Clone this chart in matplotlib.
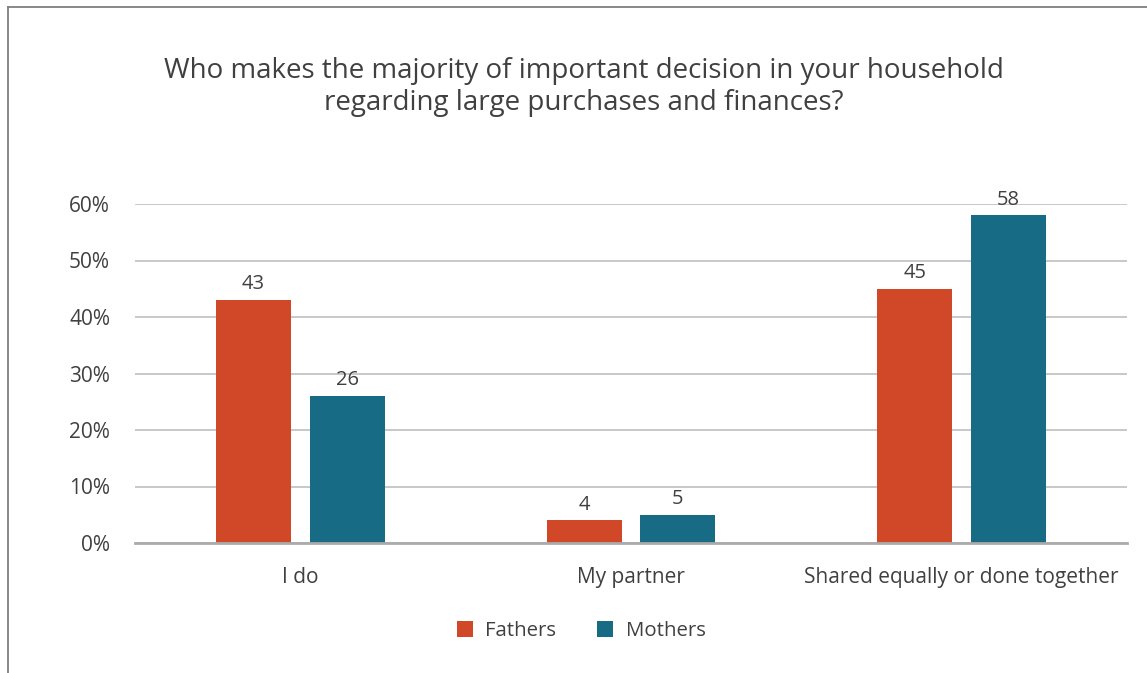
import numpy as np
import matplotlib.pyplot as plt
from matplotlib.lines import Line2D

plt.rcParams['font.family'] = ['Open Sans', 'DejaVu Sans']

categories = ['I do', 'My partner', 'Shared equally or done together']
fathers = [43, 4, 45]
mothers = [26, 5, 58]
yticks = [0, 10, 20, 30, 40, 50, 60]

orange = '#D14828'
teal = '#176B85'
text_col = '#404040'

W, H = 1147, 673
fig = plt.figure(figsize=(W / 100, H / 100), dpi=100)
ax = fig.add_axes([135 / W, 1 - 543 / H, (1127 - 135) / W, (543 - 204) / H])

x = np.arange(len(categories))
bw = 0.227
off = 0.142
b1 = ax.bar(x - off, fathers, bw, color=orange, label='Fathers', zorder=3)
b2 = ax.bar(x + off, mothers, bw, color=teal, label='Mothers', zorder=3)

for bars, vals in ((b1, fathers), (b2, mothers)):
    for rect, v in zip(bars, vals):
        ax.text(rect.get_x() + rect.get_width() / 2, v + 1.0, str(v),
                ha='center', va='bottom', fontsize=14.5, color=text_col)

ax.set_xlim(-0.5, 2.5)
ax.set_ylim(0, 60)
ax.set_yticks(yticks)
ax.set_yticklabels([f'{t}%' for t in yticks])
ax.set_xticks(x)
ax.set_xticklabels(categories)
ax.tick_params(axis='both', length=0, labelsize=15, labelcolor=text_col)
ax.tick_params(axis='y', pad=18)
ax.tick_params(axis='x', pad=17)
ax.grid(axis='y', color='#BFBFBF', linewidth=1.2, zorder=0)
for s in ('top', 'right', 'left'):
    ax.spines[s].set_visible(False)
ax.spines['bottom'].set_color('#ABABAB')
ax.spines['bottom'].set_linewidth(2)
ax.spines['bottom'].set_zorder(4)

fig.text(584 / W, 1 - 87 / H,
         'Who makes the majority of important decision in your household\n'
         'regarding large purchases and finances?',
         ha='center', va='center', fontsize=20, color=text_col, linespacing=1.2)

fig.legend(handles=[b1, b2], loc='center', bbox_to_anchor=(581 / W, 1 - 631 / H),
           ncol=2, frameon=False, fontsize=14.7, labelcolor=text_col,
           handlelength=0.8, handleheight=0.8, columnspacing=2.0, handletextpad=0.6)

# outer chart frame (top and left edges)
fig.add_artist(Line2D([8 / W, 8 / W], [0, 1 - 6.5 / H], transform=fig.transFigure,
                      color='#7F7F7F', linewidth=1.3))
fig.add_artist(Line2D([8 / W, 1], [1 - 6.5 / H, 1 - 6.5 / H], transform=fig.transFigure,
                      color='#7F7F7F', linewidth=1.3))

fig.savefig('out.png', dpi=100, facecolor='white')
